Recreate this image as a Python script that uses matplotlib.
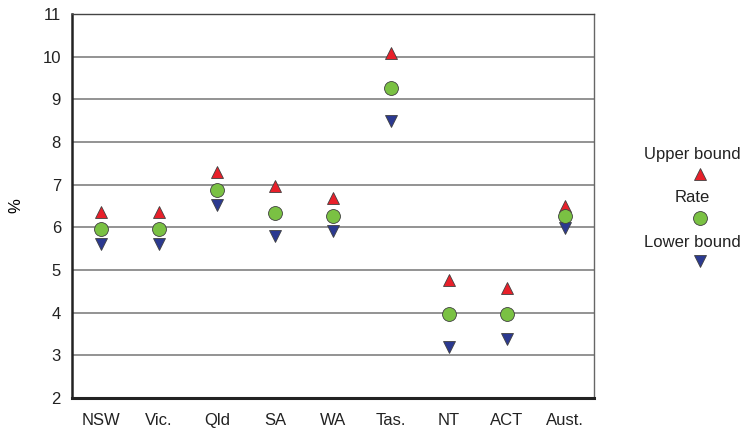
import numpy as np
import matplotlib.pyplot as plt
from matplotlib.lines import Line2D

plt.rcParams['font.family'] = ['Liberation Sans', 'DejaVu Sans']

regions = ['NSW', 'Vic.', 'Qld', 'SA', 'WA', 'Tas.', 'NT', 'ACT', 'Aust.']
upper = [6.35, 6.35, 7.30, 6.97, 6.69, 10.09, 4.77, 4.58, 6.50]
rate = [5.97, 5.97, 6.87, 6.34, 6.27, 9.27, 3.97, 3.97, 6.27]
lower = [5.60, 5.60, 6.52, 5.80, 5.91, 8.49, 3.20, 3.38, 5.98]

red = '#e8202a'
green = '#7ac143'
blue = '#2b3990'
edge = '#404040'

fig = plt.figure(figsize=(7.5, 4.36), dpi=100)
ax = fig.add_axes([0.096, 0.087, 0.696, 0.881])

x = np.arange(len(regions))
ax.plot(x, upper, '^', ms=9, color=red, mec=edge, mew=0.6, ls='none', zorder=3)
ax.plot(x, rate, 'o', ms=10, color=green, mec=edge, mew=0.6, ls='none', zorder=4)
ax.plot(x, lower, 'v', ms=9, color=blue, mec=edge, mew=0.6, ls='none', zorder=3)

ax.set_xlim(-0.5, len(regions) - 0.5)
ax.set_ylim(2, 11)
ax.set_yticks(range(2, 12))
ax.set_xticks(x)
ax.set_xticklabels(regions)
ax.tick_params(length=0, labelsize=12, colors='#222222')
ax.tick_params(axis='x', pad=11)
ax.tick_params(axis='y', pad=8)
ax.yaxis.grid(True, color='#808080', lw=1.2)
ax.set_axisbelow(True)
ax.set_ylabel('%', fontsize=12, labelpad=14)

ax.spines['left'].set_linewidth(1.8)
ax.spines['bottom'].set_linewidth(2.2)
ax.spines['left'].set_color('#222222')
ax.spines['bottom'].set_color('#222222')
ax.spines['top'].set_color('#444444')
ax.spines['right'].set_color('#666666')
ax.spines['top'].set_linewidth(1.0)
ax.spines['right'].set_linewidth(1.0)

# legend on the right: label with its marker underneath
lx = 692 / 750
items = [('Upper bound', '^', red, 9, 155, 174),
         ('Rate', 'o', green, 10, 197, 218),
         ('Lower bound', 'v', blue, 9, 242, 261)]
for label, m, c, s, ty, my in items:
    fig.text(lx, 1 - ty / 436, label, ha='center', va='center', fontsize=12, color='#222222')
    fig.add_artist(Line2D([lx + 0.011], [1 - my / 436], marker=m, ms=s, color=c,
                          mec=edge, mew=0.6, ls='none', transform=fig.transFigure))

fig.savefig('out.png', dpi=100)
